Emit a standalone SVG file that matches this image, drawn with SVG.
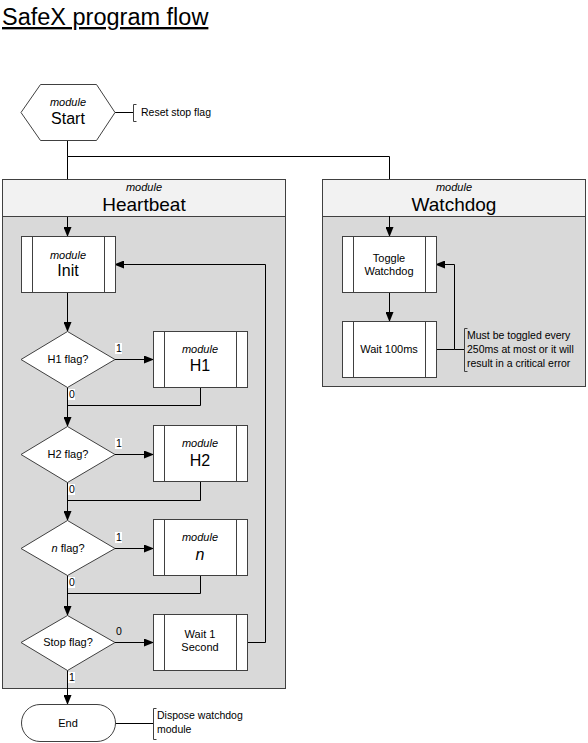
<svg xmlns="http://www.w3.org/2000/svg" width="588" height="743" viewBox="0 0 588 743">
<defs>
<marker id="arr" markerWidth="10" markerHeight="8" refX="9" refY="4" orient="auto" markerUnits="userSpaceOnUse">
<path d="M0,0 L10,4 L0,8 Z" fill="#000"/>
</marker>
<style>
text{font-family:"Liberation Sans",Arial,sans-serif;fill:#000}
.shape{fill:#fff;stroke:#404040;stroke-width:1}
.bar{fill:none;stroke:#404040;stroke-width:1}
.hdr{fill:#f2f2f2;stroke:#404040;stroke-width:1}
.body{fill:#d9d9d9;stroke:#404040;stroke-width:1}
.ln{fill:none;stroke:#000;stroke-width:1}
.arr{fill:none;stroke:#000;stroke-width:1;marker-end:url(#arr)}
.br{fill:none;stroke:#404040;stroke-width:1}
.mod{font-size:11px;font-style:italic;text-anchor:middle}
.big{font-size:16px;text-anchor:middle}
.hbig{font-size:19px;text-anchor:middle}
.sm{font-size:11px;text-anchor:middle}
.note{font-size:10.5px}
.lbl{font-size:10.5px}
.lblbg{fill:#fff}
</style>
</defs>
<text x="2" y="25" style="font-size:23.5px;text-decoration:underline">SafeX program flow</text>

<g id="containers">
<g id="heartbeat">
<rect class="body" x="2.5" y="216.5" width="283" height="472"/>
<rect class="hdr" x="2.5" y="179.5" width="283" height="37"/>
<text class="mod" x="144" y="191">module</text>
<text class="hbig" x="144" y="211">Heartbeat</text>
</g>
<g id="watchdog">
<rect class="body" x="322.5" y="216.5" width="263" height="170"/>
<rect class="hdr" x="322.5" y="179.5" width="263" height="37"/>
<text class="mod" x="454" y="191">module</text>
<text class="hbig" x="454" y="211">Watchdog</text>
</g>
</g>

<g id="connectors">
<polyline class="ln" points="67.5,140 67.5,156.5 389.5,156.5 389.5,179"/>
<line class="ln" x1="67.5" y1="156.5" x2="67.5" y2="179"/>
<line class="ln" x1="115" y1="112.5" x2="133" y2="112.5"/>
<line class="arr" x1="67.5" y1="217" x2="67.5" y2="236"/>
<line class="arr" x1="67.5" y1="293" x2="67.5" y2="331"/>
<polyline class="arr" points="247,642.5 265.5,642.5 265.5,264.5 115,264.5"/>
<line class="arr" x1="115" y1="359.5" x2="153" y2="359.5"/>
<polyline class="ln" points="200.5,387 200.5,405.5 67.5,405.5"/>
<line class="arr" x1="67.5" y1="387" x2="67.5" y2="426"/>
<line class="arr" x1="115" y1="454.5" x2="153" y2="454.5"/>
<polyline class="ln" points="200.5,482 200.5,500.5 67.5,500.5"/>
<line class="arr" x1="67.5" y1="482" x2="67.5" y2="520"/>
<line class="arr" x1="115" y1="548.5" x2="153" y2="548.5"/>
<polyline class="ln" points="200.5,576 200.5,593.5 67.5,593.5"/>
<line class="arr" x1="67.5" y1="575" x2="67.5" y2="615"/>
<line class="arr" x1="115" y1="642.5" x2="153" y2="642.5"/>
<line class="arr" x1="67.5" y1="670" x2="67.5" y2="704"/>
<line class="ln" x1="115" y1="723.5" x2="153" y2="723.5"/>
<line class="arr" x1="389.5" y1="216" x2="389.5" y2="236"/>
<line class="arr" x1="389.5" y1="293" x2="389.5" y2="321"/>
<polyline class="arr" points="436,349.5 454.5,349.5 454.5,264.5 436,264.5"/>
<line class="ln" x1="454.5" y1="349.5" x2="464" y2="349.5"/>
</g>

<g id="labels">
<rect class="lblbg" x="115" y="343" width="7" height="11"/><text class="lbl" x="116" y="352">1</text>
<rect class="lblbg" x="68" y="389" width="7" height="11"/><text class="lbl" x="69" y="398">0</text>
<rect class="lblbg" x="115" y="438" width="7" height="11"/><text class="lbl" x="116" y="447">1</text>
<rect class="lblbg" x="68" y="484" width="7" height="11"/><text class="lbl" x="69" y="493">0</text>
<rect class="lblbg" x="115" y="532" width="7" height="11"/><text class="lbl" x="116" y="541">1</text>
<rect class="lblbg" x="68" y="577" width="7" height="11"/><text class="lbl" x="69" y="586">0</text>
<text class="lbl" x="116" y="635">0</text>
<rect class="lblbg" x="68" y="672" width="7" height="11"/><text class="lbl" x="69" y="681">1</text>
</g>

<g id="start">
<polygon class="shape" points="21,112.5 40.5,84.5 96.5,84.5 115,112.5 96.5,140.5 40.5,140.5"/>
<text class="mod" x="68" y="106">module</text>
<text class="big" x="68" y="124">Start</text>
</g>
<g id="note-start">
<path class="br" d="M136.5,104.5 H133.5 V121.5 H136.5"/>
<text class="note" x="141" y="116">Reset stop flag</text>
</g>

<g id="init">
<rect class="shape" x="21.5" y="236.5" width="94" height="56"/>
<path class="bar" d="M32.5,236.5 V292.5 M104.5,236.5 V292.5"/>
<text class="mod" x="68" y="259">module</text>
<text class="big" x="68" y="276">Init</text>
</g>

<g id="h1flag">
<polygon class="shape" points="67.5,331.5 115,359.5 67.5,387.5 21,359.5"/>
<text class="sm" x="68" y="363">H1 flag?</text>
</g>
<g id="h1">
<rect class="shape" x="153.5" y="331.5" width="94" height="56"/>
<path class="bar" d="M164.5,331.5 V387.5 M236.5,331.5 V387.5"/>
<text class="mod" x="200" y="353">module</text>
<text class="big" x="200" y="371">H1</text>
</g>

<g id="h2flag">
<polygon class="shape" points="67.5,426.5 115,454.5 67.5,482.5 21,454.5"/>
<text class="sm" x="68" y="458">H2 flag?</text>
</g>
<g id="h2">
<rect class="shape" x="153.5" y="425.5" width="94" height="56"/>
<path class="bar" d="M164.5,425.5 V481.5 M236.5,425.5 V481.5"/>
<text class="mod" x="200" y="447">module</text>
<text class="big" x="200" y="466">H2</text>
</g>

<g id="nflag">
<polygon class="shape" points="67.5,520.5 115,548.5 67.5,575.5 21,548.5"/>
<text class="sm" x="68" y="552"><tspan font-style="italic">n</tspan> flag?</text>
</g>
<g id="n">
<rect class="shape" x="153.5" y="519.5" width="94" height="56"/>
<path class="bar" d="M164.5,519.5 V575.5 M236.5,519.5 V575.5"/>
<text class="mod" x="200" y="541">module</text>
<text class="big" x="200" y="560" font-style="italic">n</text>
</g>

<g id="stopflag">
<polygon class="shape" points="67.5,615.5 115,642.5 67.5,670.5 21,642.5"/>
<text class="sm" x="68" y="646">Stop flag?</text>
</g>
<g id="wait1">
<rect class="shape" x="153.5" y="614.5" width="94" height="56"/>
<path class="bar" d="M164.5,614.5 V670.5 M236.5,614.5 V670.5"/>
<text class="sm" x="200" y="638">Wait 1</text>
<text class="sm" x="200" y="651">Second</text>
</g>

<g id="end">
<rect class="shape" x="21.5" y="704.5" width="94" height="37" rx="18.5" ry="18.5"/>
<text class="sm" x="68" y="727">End</text>
</g>
<g id="note-end">
<path class="br" d="M156.5,708.5 H153.5 V739.5 H156.5"/>
<text class="note" x="157" y="719">Dispose watchdog</text>
<text class="note" x="157" y="733">module</text>
</g>

<g id="toggle">
<rect class="shape" x="342.5" y="236.5" width="94" height="56"/>
<path class="bar" d="M353.5,236.5 V292.5 M425.5,236.5 V292.5"/>
<text class="sm" x="389" y="262">Toggle</text>
<text class="sm" x="389" y="275">Watchdog</text>
</g>
<g id="wait100">
<rect class="shape" x="342.5" y="321.5" width="94" height="56"/>
<path class="bar" d="M353.5,321.5 V377.5 M425.5,321.5 V377.5"/>
<text class="sm" x="389" y="353">Wait 100ms</text>
</g>
<g id="note-watchdog">
<path class="br" d="M467.5,328.5 H464.5 V371.5 H467.5"/>
<text class="note" x="467" y="339">Must be toggled every</text>
<text class="note" x="467" y="353">250ms at most or it will</text>
<text class="note" x="467" y="367">result in a critical error</text>
</g>
</svg>
